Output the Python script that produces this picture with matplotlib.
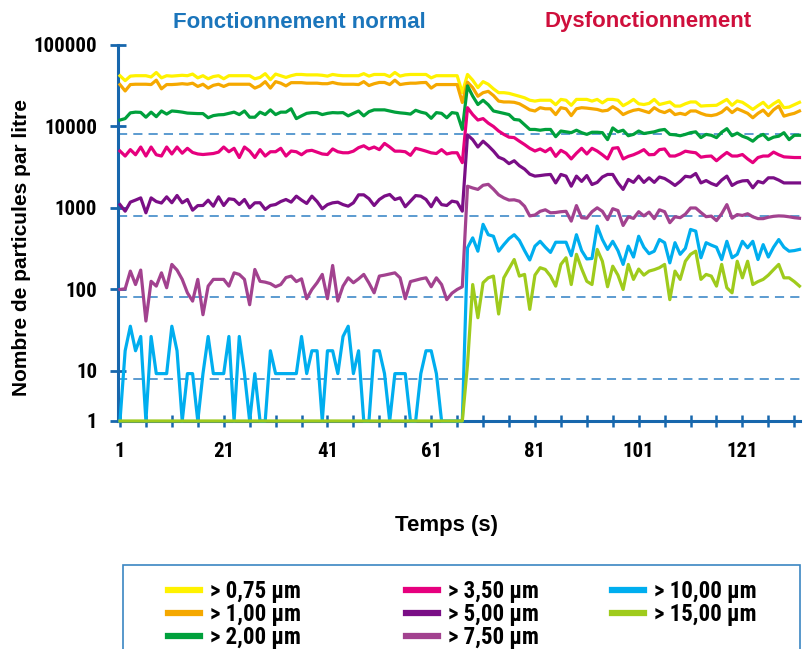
import numpy as np
import matplotlib
matplotlib.use("Agg")
import matplotlib.pyplot as plt
from matplotlib import font_manager as fm
from matplotlib.lines import Line2D
from matplotlib.patches import Rectangle


def has_font(name, stretch="normal"):
    try:
        path = fm.findfont(fm.FontProperties(family=name, stretch=stretch),
                           fallback_to_default=False)
    except ValueError:
        return False
    return stretch == "normal" or "ondens" in path or "arrow" in path


narrow = None
for cand, st in [("Liberation Sans Narrow", "normal"), ("Roboto Condensed", "normal"),
                 ("Open Sans Condensed", "normal"), ("DejaVu Sans", "condensed"),
                 ("Roboto", "condensed")]:
    if has_font(cand, st):
        narrow = (cand, st)
        break

sans = ["Liberation Sans", "DejaVu Sans"]
if narrow:
    narrow_family = [narrow[0]] + sans
    narrow_stretch = narrow[1]
else:
    narrow_family = sans
    narrow_stretch = "normal"
plt.rcParams["font.family"] = narrow_family

# time axis (s)
time_s = list(range(1, 133))

# particle counts per litre (1 = no particle counted)
p075 = [42000, 36500, 41500, 42000, 42000, 42000, 40500, 46000, 39500, 42000,
        41500, 42000, 42500, 42000, 44000, 39500, 42000, 38500, 41000, 42000,
        38500, 42000, 42000, 42000, 42000, 42000, 38500, 40000, 44500, 37500,
        44000, 42000, 40000, 42000, 43500, 43500, 43000, 43000, 43000, 42500,
        41500, 43500, 42500, 42000, 42000, 42000, 42000, 44500, 41500, 43500,
        43500, 43500, 41000, 46000, 41500, 43000, 43500, 43500, 43500, 43500,
        39500, 42000, 42000, 42000, 42000, 42000, 26000,
        43500, 37000, 30000, 35500, 33000, 29000, 26000, 26000, 25500, 24500,
        23500, 22500, 21000, 20500, 21000, 21000, 21000, 18500, 21500, 21000,
        18200, 21500, 21500, 21500, 20500, 21500, 19500, 21500, 21500, 21000,
        18000, 19500, 21500,
        19000, 18600, 19200, 21500, 18600, 19300, 20000, 17800, 17800, 19000,
        20000, 20000, 17800, 18000, 18100, 18200, 19800, 21500, 18200, 20600,
        19800, 18000, 16200, 18000, 19800, 17000, 19000, 20800, 17000, 17300,
        18500, 19800]
p100 = [32700, 27300, 32700, 33000, 33000, 33000, 32700, 37000, 29000, 32700,
        32700, 33000, 33500, 33000, 34000, 31000, 33000, 29600, 32000, 33000,
        31000, 33000, 33000, 33000, 33000, 33000, 29600, 31500, 35500, 29600,
        35500, 34000, 31500, 34500, 34500, 34500, 34000, 34000, 34000, 33500,
        33500, 34700, 33500, 33000, 33000, 33000, 32700, 35500, 31800, 33500,
        34700, 34700, 32700, 37000, 32700, 33500, 34000, 34000, 34500, 34700,
        29600, 32700, 32700, 32700, 32700, 32700, 19700,
        35000, 30000, 23500, 26000, 27000, 24000, 20500, 20000, 20000, 19800,
        19000, 17500, 16000, 15500, 17000, 16500, 16500, 14000, 17000, 16500,
        13600, 16500, 17000, 16800, 16500, 16200, 15500, 15800, 17500, 16000,
        14000, 15000, 15800,
        16200, 15500, 14800, 17000, 15500, 14800, 15900, 14000, 14500, 14000,
        15500, 15500, 14500, 13800, 13600, 14000, 15000, 17000, 14800, 16500,
        15500, 14500, 12800, 14500, 15900, 13600, 16000, 17800, 13400, 14000,
        14500, 15500]
p200 = [12000, 12500, 14700, 15000, 14900, 13000, 15000, 13200, 15500, 14200,
        15500, 15300, 15000, 14600, 14500, 14400, 14400, 12800, 13600, 13900,
        14000, 14500, 15000, 14000, 15500, 13000, 13000, 15000, 14000, 16000,
        14000, 15000, 15000, 16500, 12500, 13500, 14500, 14800, 14800, 14000,
        14500, 14800, 14700, 14800, 13500, 14500, 15500, 13500, 15200, 16000,
        16000, 16000, 15500, 15000, 14700, 14500, 14200, 15800, 15000, 14500,
        12600, 14800, 14500, 12800, 14800, 14500, 9200,
        31500, 23600, 18600, 21000, 18500, 15500, 15000, 14500, 14000, 12200,
        12000, 10500, 9200, 9200, 9000, 9200, 9200, 7500, 8800, 8600,
        8400, 9000, 8400, 8000, 8500, 8500, 8400, 6900, 9600, 8600,
        9000, 7700, 8000,
        8800, 8200, 8400, 8600, 9000, 9200, 8000, 7900, 7700, 8000,
        8400, 8600, 7300, 8000, 7800, 7300, 8500, 9400, 7700, 8300,
        7600, 7200, 6600, 7500, 8000, 6900, 7400, 7600, 8400, 6900,
        7800, 7800]
p350 = [5000, 4340, 5200, 4500, 5600, 4340, 5600, 4500, 4340, 5600,
        4600, 5600, 4700, 5400, 4800, 4600, 4530, 4600, 4660, 4850,
        5600, 4900, 5400, 4160, 5600, 5000, 4160, 5200, 4340, 4900,
        4900, 5400, 4340, 5000, 4900, 4500, 5000, 5100, 4850, 4600,
        4530, 5300, 4900, 4760, 4760, 4980, 5500, 5800, 5300, 5600,
        5200, 6200, 5600, 4980, 4980, 4900, 4430, 5400, 5200, 4980,
        4750, 4660, 5200, 4600, 4760, 4760, 3600,
        17000, 14000, 12000, 12500, 11000, 10000, 8800, 8000, 7400, 7300,
        6600, 6000, 5400, 5000, 5300, 4900, 5400, 4300, 5100, 4700,
        4000, 4700, 5400, 4600, 5400, 5000, 4500, 4000, 5400, 5500,
        4000, 4300, 4500,
        4800, 5200, 4500, 4530, 5200, 5300, 4340, 4340, 4600, 4980,
        4850, 4760, 4200, 4300, 4340, 3800, 4300, 4800, 4340, 4340,
        4530, 4000, 3600, 4160, 4340, 4340, 4850, 4500, 4240, 4200,
        4160, 4160]
p500 = [1100, 914, 1180, 1250, 1330, 873, 1330, 1200, 1150, 1370,
        1160, 1424, 1157, 1271, 940, 1070, 1073, 1247, 1052, 1372,
        1073, 1296, 1271, 1103, 1271, 1005, 1157, 1160, 960, 1073,
        1103, 1200, 1271, 1180, 1397, 1250, 1136, 1397, 1200, 978,
        1100, 1157, 1178, 1100, 1052, 1157, 1450, 1450, 1300, 1073,
        1271, 1400, 1465, 1270, 1333, 1036, 1213, 1420, 1397, 1271,
        1036, 1333, 1100, 1073, 1213, 1180, 914,
        7900, 6900, 5600, 6600, 5800, 5000, 4200, 3950, 3500, 3800,
        3300, 3000, 2600, 2460, 2500, 2550, 2580, 2030, 2580, 2460,
        1850, 2460, 2120, 2500, 1940, 2060, 2400, 2580, 2580, 2030,
        1690, 2240, 2060,
        2460, 2060, 2345, 2060, 2400, 2300, 2100, 1890, 2120, 2450,
        2400, 2650, 2030, 2170, 2000, 1890, 2200, 2460, 1890, 2060,
        2150, 2170, 1770, 2120, 2030, 2345, 2345, 2200, 2030, 2030,
        2030, 2030]
p750 = [100, 102, 168, 115, 173, 41, 126, 110, 160, 105,
        203, 173, 133, 91, 72, 133, 49, 110, 133, 133,
        133, 110, 160, 153, 133, 65, 176, 126, 123, 118,
        108, 115, 140, 146, 125, 135, 77, 100, 121, 153,
        77, 197, 72, 110, 139, 121, 135, 153, 120, 91,
        146, 150, 155, 160, 139, 77, 125, 130, 135, 139,
        108, 139, 115, 75, 90, 100, 108,
        1850, 1760, 1690, 1900, 1950, 1700, 1450, 1330, 1250, 1260,
        1210, 1050, 800, 820, 910, 950, 873, 880, 900, 910,
        690, 1070, 760, 750, 900, 1005, 910, 720, 980, 930,
        610, 780, 745,
        900, 800, 890, 740, 950, 900, 660, 780, 760, 840,
        1000, 1000, 880, 782, 795, 700, 850, 1100, 750, 830,
        810, 850, 780, 740, 740, 770, 790, 800, 795, 780,
        760, 748]
p1000 = [1, 17.7, 35.4, 17.7, 26.5, 1, 26.5, 8.85, 8.85, 8.85,
         35.4, 17.7, 1, 8.85, 8.85, 1, 8.85, 26.5, 8.85, 8.85,
         8.85, 26.5, 1, 26.5, 8.85, 1, 8.85, 1, 1, 17.7,
         8.85, 8.85, 8.85, 8.85, 8.85, 26.5, 8.85, 17.7, 17.7, 1,
         17.7, 17.7, 8.85, 26.5, 35.4, 8.85, 17.7, 1, 1, 17.7,
         17.7, 8.85, 1, 8.85, 8.85, 8.85, 1, 1, 8.85, 17.7,
         17.7, 8.85, 1, 1, 1, 1, 1,
         325, 430, 295, 630, 470, 450, 295, 355, 420, 470,
         400, 300, 230, 340, 390, 330, 285, 380, 380, 380,
         260, 470, 300, 237, 240, 600, 410, 310, 390, 300,
         203, 340, 250,
         450, 330, 275, 295, 410, 375, 212, 375, 270, 320,
         545, 520, 245, 375, 350, 330, 233, 390, 245, 270,
         390, 325, 390, 233, 355, 250, 330, 410, 330, 295,
         300, 310]
p1500 = [1, 1, 1, 1, 1, 1, 1, 1, 1, 1,
         1, 1, 1, 1, 1, 1, 1, 1, 1, 1,
         1, 1, 1, 1, 1, 1, 1, 1, 1, 1,
         1, 1, 1, 1, 1, 1, 1, 1, 1, 1,
         1, 1, 1, 1, 1, 1, 1, 1, 1, 1,
         1, 1, 1, 1, 1, 1, 1, 1, 1, 1,
         1, 1, 1, 1, 1, 1, 1,
         12, 115, 45, 121, 139, 146, 50, 139, 180, 233,
         146, 153, 57, 150, 185, 176, 146, 110, 203, 245,
         115, 270, 180, 126, 115, 310, 222, 108, 193, 150,
         100, 203, 133,
         178, 150, 168, 175, 185, 203, 75, 168, 133, 222,
         270, 295, 133, 153, 146, 110, 203, 105, 91, 222,
         139, 222, 115, 125, 133, 150, 175, 203, 139, 139,
         125, 110]

labels = ["> 0,75 \u00b5m", "> 1,00 \u00b5m", "> 2,00 \u00b5m", "> 3,50 \u00b5m",
          "> 5,00 \u00b5m", "> 7,50 \u00b5m", "> 10,00 \u00b5m", "> 15,00 \u00b5m"]
colors = ["#fff200", "#f5a800", "#00a03c", "#e6007e",
          "#7a0e86", "#a2428f", "#00aeef", "#9fcb1c"]
series = [p075, p100, p200, p350, p500, p750, p1000, p1500]

ref_levels = [8000, 800, 80, 7]
y_ticks = [1, 10, 100, 1000, 10000, 100000]
x_ticks = list(range(1, 133, 5))

axis_blue = "#1767ad"
dash_blue = "#2f80c4"

# the 1..10 decade is drawn shorter than the others
LOW = 0.614


def fwd(v):
    lv = np.log10(np.clip(np.asarray(v, dtype=float), 1e-9, None))
    return np.where(lv >= 1, lv, 1 - LOW * (1 - lv))


def inv(z):
    z = np.asarray(z, dtype=float)
    return np.where(z >= 1, 10.0 ** z, 10.0 ** (1 - (1 - z) / LOW))


fig = plt.figure(figsize=(8.1, 6.49), dpi=100)
ax = fig.add_axes([118 / 810, 1 - 421 / 649, 682 / 810, 376 / 649])
ax.set_yscale("function", functions=(fwd, inv))

for lvl in ref_levels:
    ax.axhline(lvl, color=dash_blue, lw=1.1, ls=(0, (6, 4)), zorder=1)

for vals, col, lab in zip(series, colors, labels):
    ax.plot(time_s, vals, color=col, lw=2.3, label=lab, clip_on=False, zorder=3)

ax.set_xlim(0.62, 132.1)
ax.set_ylim(1, 100000)

for side in ("top", "right"):
    ax.spines[side].set_visible(False)
for side in ("left", "bottom"):
    ax.spines[side].set_color(axis_blue)
    ax.spines[side].set_linewidth(2.2)

tick_size = 15 if narrow else 13
ax.set_yticks(y_ticks)
ax.set_yticklabels([str(v) for v in y_ticks])
ax.yaxis.set_minor_locator(matplotlib.ticker.NullLocator())
ax.set_xticks(x_ticks)
ax.set_xticklabels([str(t) if (t - 1) % 20 == 0 else "" for t in x_ticks])
ax.tick_params(axis="y", direction="inout", length=12, width=2, color=axis_blue,
               pad=9, labelsize=tick_size)
ax.tick_params(axis="x", direction="inout", length=8, width=1.8, color=axis_blue,
               pad=11, labelsize=tick_size)
for lbl in ax.get_xticklabels() + ax.get_yticklabels():
    lbl.set_fontweight("bold")
    lbl.set_fontstretch(narrow_stretch)

fig.text(299 / 810, 1 - 22 / 649, "Fonctionnement normal", color="#1b75bb",
         fontsize=16, fontweight="bold", family=sans, ha="center", va="center")
fig.text(648 / 810, 1 - 22 / 649, "Dysfonctionnement", color="#cf0f3c",
         fontsize=16, fontweight="bold", family=sans, ha="center", va="center")
fig.text(22 / 810, 1 - 247 / 649, "Nombre de particules par litre", rotation=90,
         fontsize=15, fontweight="bold", family=sans, ha="center", va="center")
fig.text(447 / 810, 1 - 525 / 649, "Temps (s)", fontsize=16, fontweight="bold",
         family=sans, ha="center", va="center")

# legend box
fig.patches.append(Rectangle((123 / 810, -0.02), 677 / 810, 0.02 + 1 - 565 / 649,
                             transform=fig.transFigure, fill=False,
                             edgecolor="#3b86c2", lw=1.2))
handles = [Line2D([], [], color=c, lw=4.5) for c in colors]
col_x = [168, 406, 612]
groups = [(0, 3), (3, 6), (6, 8)]
leg_size = 16.5 if narrow else 14
for x0, (a, b) in zip(col_x, groups):
    fig.legend(handles[a:b], labels[a:b], loc="upper left",
               bbox_to_anchor=(x0 / 810, 1 - 580 / 649), frameon=False,
               prop={"weight": "bold", "size": leg_size, "family": narrow_family,
                     "stretch": narrow_stretch},
               handlelength=32 / (leg_size * 100 / 72), handletextpad=0.45,
               labelspacing=0.0, borderpad=0, borderaxespad=0)

fig.savefig("out.png", dpi=100)
